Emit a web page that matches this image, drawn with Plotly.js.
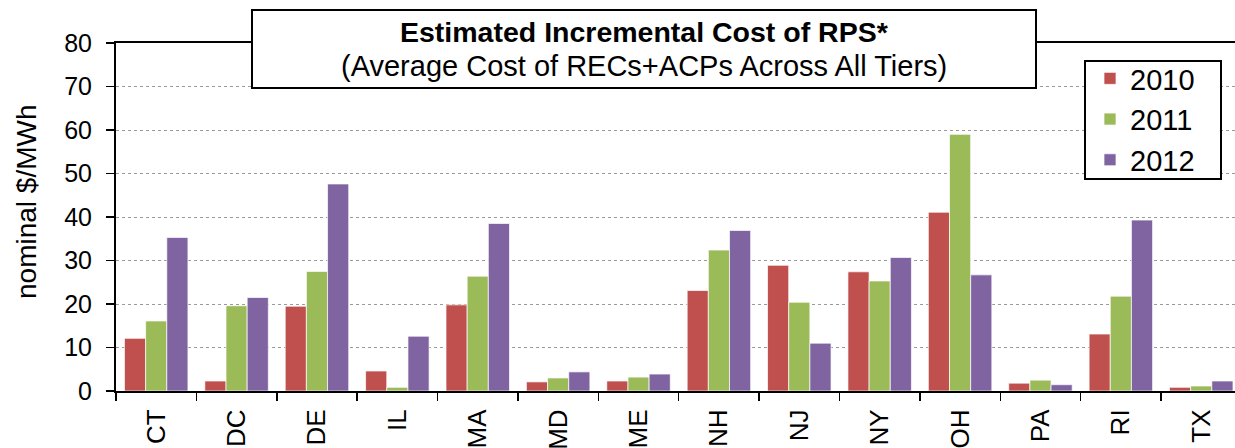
<!DOCTYPE html>
<html><head><meta charset="utf-8">
<script src="https://cdn.plot.ly/plotly-3.0.1.min.js"></script>
<style>html,body{margin:0;padding:0;background:#fff;}#chart{width:1235px;height:448px;}</style>
</head><body><div id="chart"></div>
<script>
const states = ["CT","DC","DE","IL","MA","MD","ME","NH","NJ","NY","OH","PA","RI","TX"];
const years = ["2010","2011","2012"];
const v2010 = [12.1, 2.3, 19.5, 4.6, 19.8, 2.1, 2.3, 23.1, 28.9, 27.4, 41.1, 1.8, 13.1, 0.85];
const v2011 = [16.1, 19.6, 27.5, 0.85, 26.4, 3.0, 3.2, 32.4, 20.4, 25.3, 59.0, 2.5, 21.8, 1.15];
const v2012 = [35.3, 21.5, 47.6, 12.6, 38.5, 4.4, 3.9, 36.9, 11.0, 30.7, 26.7, 1.45, 39.3, 2.3];
const colors = ["#C0504D","#9BBB59","#8064A2"];
const series = [v2010, v2011, v2012];

const FONT = "Liberation Sans, Arial, sans-serif";
const traces = series.map((vals, i) => ({
  type: "bar", x: states, y: vals, name: years[i],
  marker: {color: colors[i], line: {color: "rgba(255,255,255,0.7)", width: 1}}
}));

// plot area pixels
const L = 116, R = 1235, T = 43, B = 391;
const px = x => (x - L) / (R - L);
const py = y => (B - y) / (B - T);

const layout = {
  width: 1235, height: 448,
  margin: {l: L, r: 1235 - R, t: T, b: 448 - B, pad: 0},
  paper_bgcolor: "#fff", plot_bgcolor: "#fff",
  font: {family: FONT, color: "#000"},
  barmode: "group", bargap: 0.21, bargroupgap: 0,
  showlegend: true,
  legend: {
    x: px(1090), y: py(53), xanchor: "left", yanchor: "top",
    borderwidth: 0, bgcolor: "rgba(0,0,0,0)",
    font: {family: FONT, size: 29, color: "#000"},
    traceorder: "normal", itemwidth: 30
  },
  xaxis: {
    type: "category", range: [-0.5, 13.42],
    showline: true, linecolor: "#000", linewidth: 2, mirror: true,
    ticks: "outside", ticklen: 8, tickwidth: 1.5, tickcolor: "#000",
    tickson: "boundaries", tickangle: -90, ticklabelstandoff: 6,
    tickfont: {family: FONT, size: 26, color: "#000"},
    showgrid: false, zeroline: false, fixedrange: true
  },
  yaxis: {
    range: [0, 80], dtick: 10, tick0: 0,
    showline: true, linecolor: "#000", linewidth: 2,
    ticks: "outside", ticklen: 8, tickwidth: 1.5, tickcolor: "#000",
    ticklabelstandoff: 9,
    tickfont: {family: FONT, size: 25, color: "#000"},
    showgrid: true, gridcolor: "#9a9a9a", gridwidth: 1, griddash: "dot",
    zeroline: false, fixedrange: true
  },
  shapes: [{
    type: "rect", xref: "paper", yref: "paper", layer: "above",
    x0: px(252), x1: px(1036), y0: py(88), y1: py(10),
    fillcolor: "#fff", line: {color: "#000", width: 2}
  }, {
    type: "rect", xref: "paper", yref: "paper", layer: "above",
    x0: px(1085), x1: px(1221), y0: py(179), y1: py(61),
    fillcolor: "#fff", line: {color: "#000", width: 2}
  }],
  annotations: [
    {xref: "paper", yref: "paper", x: px(644), y: py(32), xanchor: "center", yanchor: "middle",
     text: "<b>Estimated Incremental Cost of RPS*</b>", showarrow: false,
     font: {family: FONT, size: 28.5, color: "#000"}},
    {xref: "paper", yref: "paper", x: px(644), y: py(66), xanchor: "center", yanchor: "middle",
     text: "(Average Cost of RECs+ACPs Across All Tiers)", showarrow: false,
     font: {family: FONT, size: 29, color: "#000"}},
    {xref: "paper", yref: "paper", x: px(26), y: py(202), xanchor: "center", yanchor: "middle",
     text: "nominal $/MWh", textangle: -90, showarrow: false,
     font: {family: FONT, size: 28, color: "#000"}}
  ]
};
Plotly.newPlot("chart", traces, layout, {staticPlot: true, displayModeBar: false});
</script></body></html>
